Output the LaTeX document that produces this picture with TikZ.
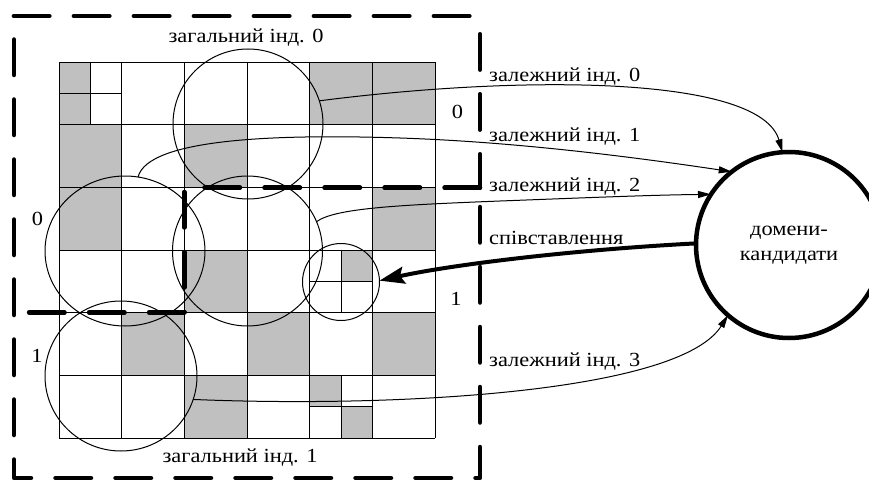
\documentclass[tikz,border=0pt]{standalone}
\usepackage{fontspec}
\setmainfont{Liberation Serif}
\newfontfamily\diagfont[FakeStretch=1.12]{Liberation Serif}
\usetikzlibrary{arrows.meta,shapes.geometric}
\definecolor{cellgray}{RGB}{192,192,192}
\begin{document}
\begin{tikzpicture}[x=1pt,y=-1pt,
  txt/.style={font=\diagfont\fontsize{20}{25}\selectfont, inner sep=0pt, anchor=base west},
  gridline/.style={line width=1pt, black},
  thincirc/.style={draw, circle, line width=1pt, inner sep=0pt, outer sep=0pt},
  thinell/.style={draw, ellipse, line width=1pt, inner sep=0pt, outer sep=0pt},
  bnd/.style={line width=4.5pt, line cap=round, line join=round, dash pattern=on 35.5pt off 24.5pt},
  arr/.style={line width=1pt, -{Triangle[length=13pt,width=7pt]}},
  thickarr/.style={line width=4pt, -{Stealth[length=25pt,width=17pt,inset=4pt]}}]
\useasboundingbox (0,0) rectangle (869,484);
\fill[white] (0,0) rectangle (869,484);
% grid
\begin{scope}[shift={(59,62.3)}, x=62.67pt, y=-62.67pt]
  \foreach \c/\r in {4/0,5/0,0/1,2/1,0/2,5/2,2/3,1/4,3/4,5/4,2/5}
    \fill[cellgray] (\c,\r) rectangle ++(1,1);
  \fill[cellgray] (0,0) rectangle (0.5,1);
  \fill[cellgray] (4.5,3) rectangle (5,3.5);
  \fill[cellgray] (4,5) rectangle (4.5,5.5);
  \fill[cellgray] (4.5,5.5) rectangle (5,6);
  \foreach \i in {0,...,6} {
    \draw[gridline] (\i,0) -- (\i,6);
    \draw[gridline] (0,\i) -- (6,\i);
  }
  \draw[gridline] (0.5,0) -- (0.5,1) (0,0.5) -- (1,0.5);
  \draw[gridline] (4.5,3) -- (4.5,4) (4,3.5) -- (5,3.5);
  \draw[gridline] (4.5,5) -- (4.5,6) (4,5.5) -- (5,5.5);
\end{scope}
% circles
\node[thincirc, minimum size=150pt] (ctop) at (248,124) {};
\node[thinell, minimum width=160pt, minimum height=150pt] (cleft) at (125,251) {};
\node[thincirc, minimum size=150pt] (cmid) at (247.5,251) {};
\node[thincirc, minimum size=77pt] (csm) at (341,282) {};
\node[thinell, minimum width=152pt, minimum height=150pt] (cbot) at (121,376) {};
% region boundaries
\draw[bnd] (13.9,16) -- (480,16);
\draw[bnd] (480,34.2) -- (480,187.7);
\draw[bnd] (480,187.7) -- (184.3,187.7) -- (184.3,312.3) -- (29,312.3);
\draw[bnd] (480,207) -- (480,478) -- (14,478) -- (14,16);
% candidate domains
\node[draw, circle, line width=4.5pt, minimum size=186pt, inner sep=0pt, outer sep=0pt,
      align=center, font=\diagfont\fontsize{20}{25}\selectfont] (dk) at (789,245) {домени-\\кандидати};
% labels
\node[txt, anchor=base] (g0) at (246,42.7) {загальний інд. 0};
\node[txt, anchor=base] (g1) at (240,462.3) {загальний інд. 1};
\node[txt] (l0) at (489,81.7) {залежний інд. 0};
\node[txt] (l1) at (489,141.7) {залежний інд. 1};
\node[txt] (l2) at (489,191.7) {залежний інд. 2};
\node[txt] (l3) at (489,244) {співставлення};
\node[txt] (l4) at (489,366) {залежний інд. 3};
\node[txt, anchor=base] (n0r) at (457.5,118) {0};
\node[txt, anchor=base] (n0l) at (37.5,225) {0};
\node[txt, anchor=base] (n1l) at (37,362) {1};
\node[txt, anchor=base] (n1r) at (456,305) {1};
% connectors
\draw[arr] (ctop.18) .. controls (520,75) and (760,75) .. (dk.94);
\draw[arr] (cleft.80) .. controls (148,138) and (280,134) .. (400,138)
           .. controls (520,142) and (640,158) .. (dk.128);
\draw[arr] (cmid.23) .. controls (335,208) and (400,205) .. (500,201)
           .. controls (580,198) and (650,195) .. (dk.147);
\draw[thickarr] (dk.179) .. controls (570,250) and (450,265) .. (csm.2);
\draw[arr] (cbot.-18) .. controls (400,408) and (680,392) .. (dk.229);
\end{tikzpicture}
\end{document}
